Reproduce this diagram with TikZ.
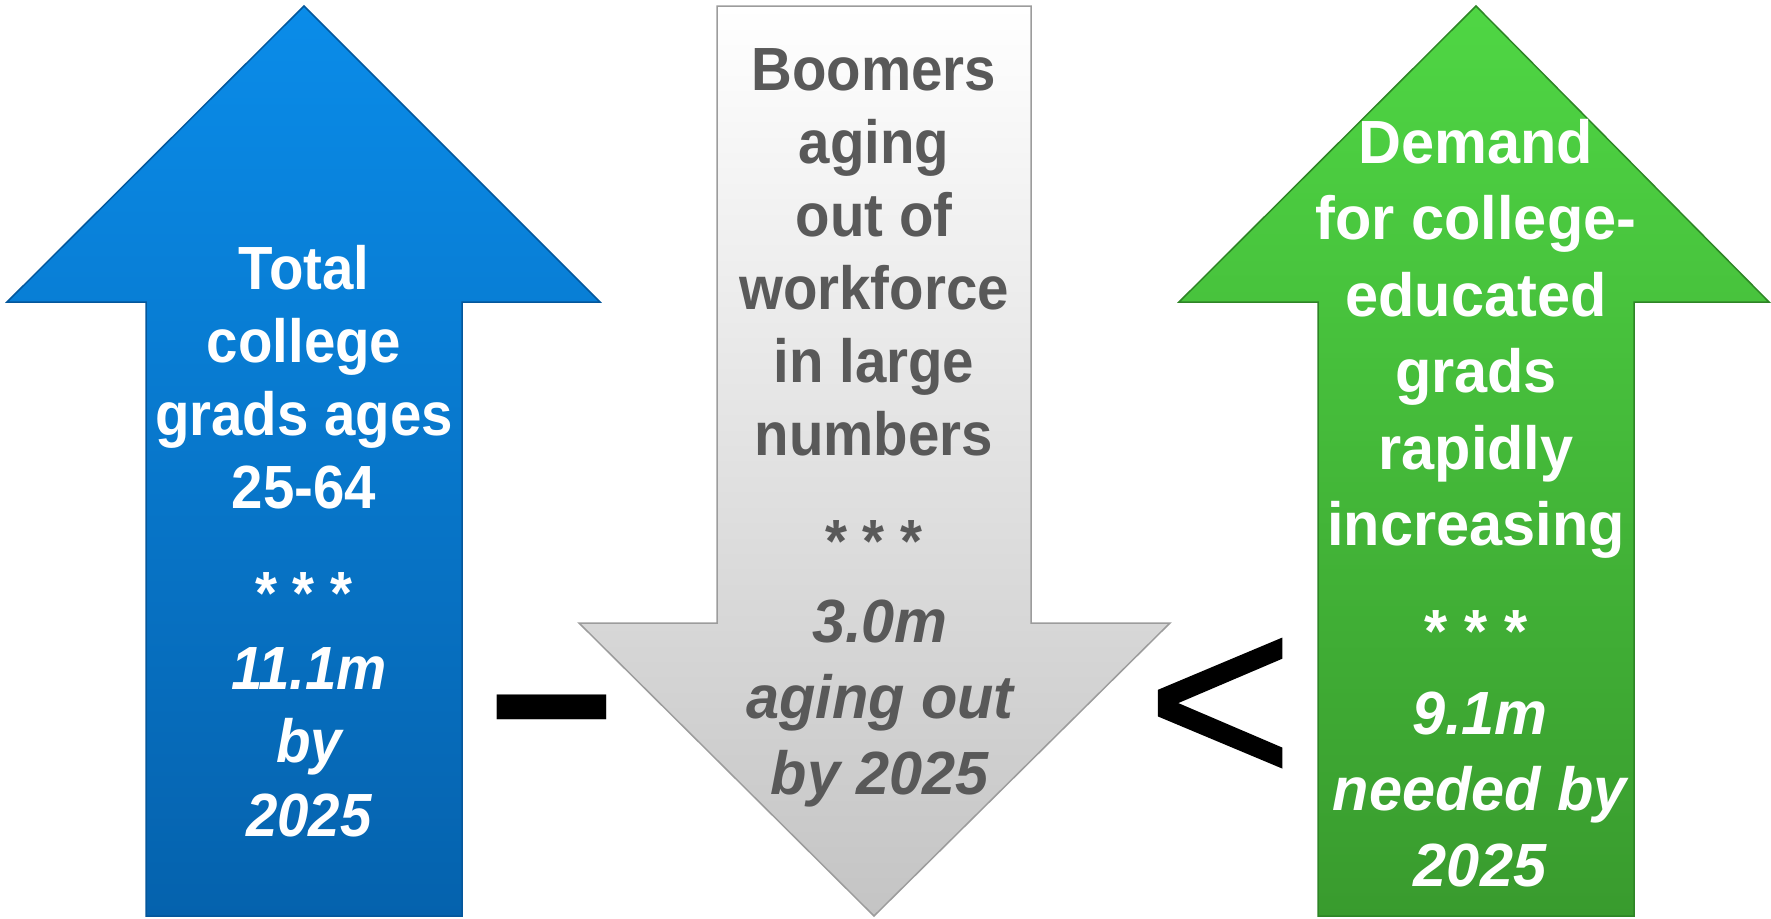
\documentclass[tikz,border=0pt]{standalone}
\usepackage{fontspec}
\setmainfont{Liberation Sans}
\newfontfamily\fblue{Liberation Sans}[FakeStretch=0.925]
\newfontfamily\fgreen{Liberation Sans}[FakeStretch=0.975]
\newfontfamily\fsym{Liberation Sans}[FakeBold=0.8]
\definecolor{bluetop}{HTML}{0A8CE9}
\definecolor{bluebot}{HTML}{0562AD}
\definecolor{blueedge}{HTML}{04579C}
\definecolor{greentop}{HTML}{4FD644}
\definecolor{greenbot}{HTML}{399B2E}
\definecolor{greenedge}{HTML}{2E8526}
\definecolor{graybot}{HTML}{C4C4C4}
\definecolor{grayedge}{HTML}{9C9C9C}
\definecolor{graytext}{HTML}{595959}
\begin{document}
\begin{tikzpicture}[x=1pt,y=-1pt,
  line/.style={anchor=base, inner sep=0pt, outer sep=0pt},
  bup/.style={line, text=white, font=\fblue\bfseries\fontsize{61}{73}\selectfont},
  bit/.style={line, text=white, font=\fblue\bfseries\itshape\fontsize{61}{73}\selectfont},
  gup/.style={line, text=graytext, font=\fblue\bfseries\fontsize{61}{73}\selectfont},
  git/.style={line, text=graytext, font=\fgreen\bfseries\itshape\fontsize{61}{73}\selectfont},
  nup/.style={line, text=white, font=\fgreen\bfseries\fontsize{61}{73}\selectfont},
  nit/.style={line, text=white, font=\fgreen\bfseries\itshape\fontsize{61}{73}\selectfont},
  sym/.style={line, text=black}]
\useasboundingbox (0,0) rectangle (1771,918);
% blue arrow
\shade[top color=bluetop, bottom color=bluebot, draw=blueedge, line width=1.5pt, line join=miter]
  (304,6) -- (600,302) -- (462,302) -- (462,916) -- (146,916) -- (146,302) -- (7,302) -- cycle;
% gray arrow
\shade[top color=white, bottom color=graybot, draw=grayedge, line width=1.5pt, line join=miter]
  (717,6) -- (1031,6) -- (1031,623) -- (1170,623) -- (874,916) -- (579,623) -- (717,623) -- cycle;
% green arrow
\shade[top color=greentop, bottom color=greenbot, draw=greenedge, line width=1.5pt, line join=miter]
  (1476,6) -- (1769,302) -- (1634,302) -- (1634,916) -- (1318,916) -- (1318,302) -- (1179,302) -- cycle;
% blue text
\node[bup] (b1) at (304,289) {Total};
\node[bup] (b2) at (304,362) {college};
\node[bup] (b3) at (304,435) {grads ages};
\node[bup] (b4) at (304,508) {25-64};
\node[bup] (b5) at (304,614) {* * *};
\node[bit] (b6) at (309,689) {11.1m};
\node[bit] (b7) at (309,762) {by};
\node[bit] (b8) at (309,836) {2025};
% gray text
\node[gup] (g1) at (874,90) {Boomers};
\node[gup] (g2) at (874,163) {aging};
\node[gup] (g3) at (874,236) {out of};
\node[gup] (g4) at (874,309) {workforce};
\node[gup] (g5) at (874,382) {in large};
\node[gup] (g6) at (874,455) {numbers};
\node[gup] (g7) at (874,562) {* * *};
\node[git] (g8) at (880,642) {3.0m};
\node[git] (g9) at (880,718) {aging out};
\node[git] (g10) at (880,794) {by 2025};
% green text
\node[nup] (n1) at (1476,163) {Demand};
\node[nup] (n2) at (1476,239.5) {for college-};
\node[nup] (n3) at (1476,316) {educated};
\node[nup] (n4) at (1476,392.5) {grads};
\node[nup] (n5) at (1476,469) {rapidly};
\node[nup] (n6) at (1476,545.5) {increasing};
\node[nup] (n7) at (1476,652) {* * *};
\node[nit] (n8) at (1480,734) {9.1m};
\node[nit] (n9) at (1480,810) {needed by};
\node[nit] (n10) at (1480,886) {2025};
% operators
\node[sym, font=\bfseries\fontsize{194}{194}\selectfont] (minus) at (552,774) {\scalebox{1.14}[1.29]{–}};
\node[sym, font=\fsym\fontsize{252}{252}\selectfont] (lt) at (1220,786) {<};
\end{tikzpicture}
\end{document}
